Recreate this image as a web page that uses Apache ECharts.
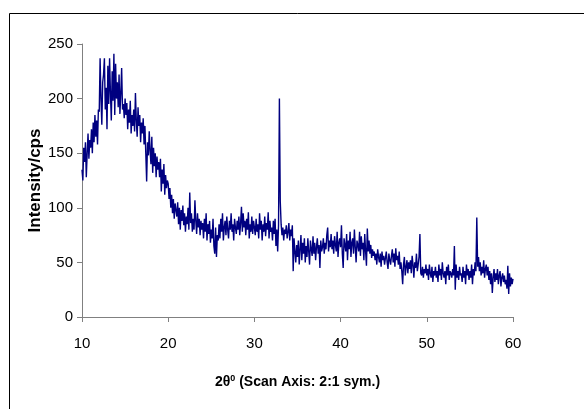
<!DOCTYPE html>
<html>
<head>
<meta charset="utf-8">
<script src="https://cdn.jsdelivr.net/npm/echarts@6/dist/echarts.min.js"></script>
<style>
html,body{margin:0;padding:0;background:#fff;}
#chart{width:584px;height:409px;}
</style>
</head>
<body>
<div id="chart"></div>
<script>
// 2θ scan: start angle and step (degrees)
const scanStart = 10;
const scanStep = 0.1;
// Intensity (cps), one value per 0.1° from 10.0 to 60.0
const intensity = [
  135,125,155,142,160,128,150,168,145,162,
  155,172,150,178,160,185,165,180,158,190,
  188,237,200,176,215,222,237,190,210,172,
  230,195,237,205,180,225,198,241,185,232,
  200,215,192,222,186,205,228,190,195,182,
  200,185,196,172,190,178,198,168,185,175,
  190,170,205,180,165,192,175,185,160,178,
  168,182,158,175,150,124,160,148,170,152,
  140,165,132,155,138,150,128,147,135,142,
  128,145,115,135,122,140,112,130,118,125,
  122,108,118,100,112,95,108,90,104,98,
  92,105,85,100,80,98,88,102,84,95,
  78,92,85,100,80,114,86,95,78,90,
  80,107,88,76,95,82,90,75,88,80,
  86,72,90,78,95,70,85,76,88,68,
  80,72,90,65,58,82,55,75,70,85,
  72,90,78,95,70,82,88,75,92,80,
  72,88,80,95,78,85,70,90,82,76,
  88,80,92,75,86,101,78,95,82,88,
  75,90,80,96,72,85,78,92,76,88,
  82,75,90,78,85,72,95,80,88,70,
  85,78,92,74,86,80,96,72,88,78,
  82,70,88,76,90,65,80,60,84,200,
  106,85,75,82,70,80,76,84,72,78,
  86,70,80,74,84,42,72,60,50,66,
  55,70,48,62,75,52,68,58,72,50,
  65,55,72,60,48,70,62,56,74,58,
  68,52,64,72,58,66,45,70,60,64,
  72,58,68,62,75,82,60,70,64,76,
  62,70,58,74,66,60,78,55,68,72,
  64,84,58,45,72,66,60,76,52,70,
  62,78,55,68,72,58,80,64,50,70,
  66,60,78,56,74,62,68,52,76,60,
  47,81,60,70,58,66,54,62,56,60,
  52,58,48,62,55,50,58,46,60,52,
  56,48,54,60,50,44,58,52,48,56,
  62,50,58,46,63,52,56,48,60,44,
  50,42,30,48,55,38,46,52,40,50,
  44,52,40,56,48,36,50,45,58,42,
  48,55,76,40,38,46,36,44,40,48,
  38,44,34,48,40,36,46,32,42,38,
  46,36,42,32,48,38,44,34,50,40,
  36,42,30,46,38,48,34,42,40,36,
  44,38,65,25,48,36,42,34,46,38,
  40,32,46,36,42,30,48,38,44,34,
  42,36,48,30,44,38,50,42,91,46,
  55,42,50,38,46,40,52,36,44,48,
  38,46,34,42,30,40,22,36,44,32,
  40,34,44,30,38,42,28,36,40,32,
  38,30,34,26,47,21,40,28,36,30,
  35
];
const xTicks = {min: 10, max: 60, interval: 10};
const yTicks = {min: 0, max: 250, interval: 50};
const xTitle = '2θ{sup|0} (Scan Axis: 2:1 sym.)';
const yTitle = 'Intensity/cps';

const seriesData = intensity.map((v, i) => [+(scanStart + i * scanStep).toFixed(1), v]);

const sans = '"Liberation Sans", Arial, sans-serif';
const chart = echarts.init(document.getElementById('chart'), null, {renderer: 'canvas'});
chart.setOption({
  animation: false,
  backgroundColor: '#ffffff',
  graphic: [{
    type: 'rect', silent: true,
    shape: {x: 9.5, y: 13.5, width: 620, height: 440},
    style: {fill: 'none', stroke: '#000', lineWidth: 1}
  }],
  grid: {left: 82, right: 71, top: 44, bottom: 92, containLabel: false},
  xAxis: {
    type: 'value', min: xTicks.min, max: xTicks.max, interval: xTicks.interval,
    name: xTitle, nameLocation: 'middle', nameGap: 57,
    nameTextStyle: {
      fontFamily: sans, fontWeight: 'bold', fontSize: 14, color: '#000',
      rich: {sup: {fontFamily: sans, fontWeight: 'bold', fontSize: 9, color: '#000', verticalAlign: 'top', padding: [0, 0, 7, 0]}}
    },
    axisLine: {show: true, onZero: false, lineStyle: {color: '#808080', width: 1}},
    axisTick: {show: true, inside: false, length: 5, lineStyle: {color: '#808080'}},
    axisLabel: {fontFamily: sans, fontSize: 15, color: '#000', margin: 19},
    splitLine: {show: false}
  },
  yAxis: {
    type: 'value', min: yTicks.min, max: yTicks.max, interval: yTicks.interval,
    name: yTitle, nameLocation: 'middle', nameGap: 38, nameRotate: 90,
    nameMoveOverlap: false,
    nameTextStyle: {fontFamily: sans, fontWeight: 'bold', fontSize: 17, color: '#000'},
    axisLine: {show: true, lineStyle: {color: '#808080', width: 1}},
    axisTick: {show: true, inside: false, length: 5, lineStyle: {color: '#808080'}},
    axisLabel: {fontFamily: sans, fontSize: 15, color: '#000', margin: 9},
    splitLine: {show: false}
  },
  series: [{
    type: 'line', data: seriesData, showSymbol: false, symbol: 'none',
    lineStyle: {color: '#000080', width: 1.4}, sampling: null, silent: true
  }]
});
</script>
</body>
</html>
